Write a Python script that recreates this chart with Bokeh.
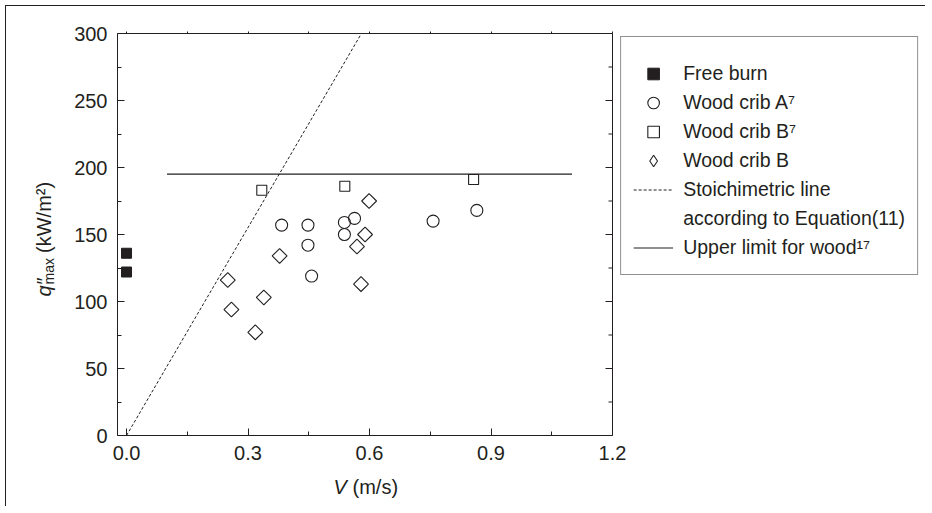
import numpy as np
from bokeh.plotting import figure
from bokeh.models import (Range1d, LinearAxis, FixedTicker, Label, Legend,
                          LegendItem, NumeralTickFormatter, Span)
from bokeh.embed import file_html
from bokeh.resources import INLINE

# ---------------- data ----------------
free_v = [0.0, 0.0]
free_q = [136, 122]

cribA7_v = [0.383, 0.448, 0.448, 0.457, 0.538, 0.538, 0.563, 0.757, 0.865]
cribA7_q = [157, 157, 142, 119, 159, 150, 162, 160, 168]

cribB7_v = [0.334, 0.539, 0.857]
cribB7_q = [183, 186, 191]

cribB_v = [0.250, 0.259, 0.318, 0.339, 0.378, 0.569, 0.579, 0.589, 0.599]
cribB_q = [116, 94, 77, 103, 134, 141, 113, 150, 175]

stoich_v = [0.0, 0.58]
stoich_q = [0, 300]

upper_v = [0.1, 1.1]
upper_q = [195, 195]

x_start, x_end = -0.0223, 1.2
y_start, y_end = 0, 300
x_ticks = [0.0, 0.3, 0.6, 0.9, 1.2]
x_minor = [0.15, 0.45, 0.75, 1.05]
y_ticks = [0, 50, 100, 150, 200, 250, 300]
y_minor = [25, 75, 125, 175, 225, 275]

legend_labels = ["Free burn", "Wood crib A\u2077", "Wood crib B\u2077", "Wood crib B",
                 "Stoichimetric line", "according to Equation(11)",
                 "Upper limit for wood\u00b9\u2077"]

# ---------------- layout / styling ----------------
INK = "#231f20"
FONT = "Liberation Sans"
FS = "20px"

OFF = 6                   # canvas origin on the page (margin 5 + border 1)
FL, FT = 117, 33          # frame left/top on the page
BOX_W, FH = 495, 402      # plot box size (data area)
FR = 921                  # frame extends right to hold the legend
FW = FR - FL
FB = FT + FH
px_per_x = BOX_W / (x_end - x_start)

p = figure(frame_width=FW, frame_height=FH,
           x_range=Range1d(x_start, x_start + FW / px_per_x),
           y_range=Range1d(y_start, y_end),
           output_backend="svg", toolbar_location=None,
           min_border_left=FL - OFF, min_border_top=FT - OFF,
           min_border_bottom=70, min_border_right=4,
           x_axis_label=None, y_axis_label=None)
p.background_fill_color = "white"
p.border_fill_color = "white"
p.grid.visible = False
p.outline_line_color = None

def style_axis(ax, ticks, minor, fmt, tick_in, standoff=10):
    ax.ticker = FixedTicker(ticks=ticks, minor_ticks=minor)
    ax.axis_line_color = INK
    ax.major_tick_line_color = INK
    ax.minor_tick_line_color = INK
    ax.major_tick_out = 0
    ax.minor_tick_out = 0
    ax.major_tick_in = tick_in
    ax.minor_tick_in = max(tick_in - 3, 0)
    ax.major_label_text_font = FONT
    ax.major_label_text_color = INK
    ax.major_label_text_font_size = FS
    ax.formatter = NumeralTickFormatter(format=fmt)
    ax.major_label_standoff = standoff

style_axis(p.xaxis[0], x_ticks, x_minor, "0.0", 7, standoff=10)
p.xaxis[0].bounds = (x_start, x_end)
style_axis(p.yaxis[0], y_ticks, y_minor, "0", 7, standoff=10)

# top edge of the box: ticks only, no labels
top = LinearAxis(bounds=(x_start, x_end), ticker=FixedTicker(ticks=x_ticks, minor_ticks=x_minor),
                 axis_line_color=INK, major_tick_line_color=INK, minor_tick_line_color=INK,
                 major_tick_in=0, minor_tick_in=0, major_tick_out=2, minor_tick_out=2,
                 major_label_text_font_size="0px", major_label_standoff=0)
top.major_label_text_alpha = 0
p.add_layout(top, "above")

# right edge of the box with inward ticks
p.add_layout(Span(location=x_end, dimension="height", line_color=INK, line_width=1))
maj_len, min_len = 7 / px_per_x, 4 / px_per_x
p.segment(x0=[x_end] * len(y_ticks), y0=y_ticks, x1=[x_end - maj_len] * len(y_ticks), y1=y_ticks,
          line_color=INK, line_width=1)
p.segment(x0=[x_end] * len(y_minor), y0=y_minor, x1=[x_end - min_len] * len(y_minor), y1=y_minor,
          line_color=INK, line_width=1)

# ---------------- glyphs ----------------
# legend key for the diamonds: same data, tiny, hidden under the white-filled markers
r_b_key = p.scatter(cribB_v, cribB_q, marker="diamond", size=5,
                    fill_color=None, line_color=INK, line_width=1.1)
r_b = p.scatter(cribB_v, cribB_q, marker="square", size=10.5, angle=np.pi / 4,
                fill_color="white", line_color=INK, line_width=1.1)
r_free = p.scatter(free_v, free_q, marker="square", size=10,
                   fill_color=INK, line_color=INK)
r_a7 = p.scatter(cribA7_v, cribA7_q, marker="circle", size=12,
                 fill_color=None, line_color=INK, line_width=1.1)
r_b7 = p.scatter(cribB7_v, cribB7_q, marker="square", size=10,
                 fill_color=None, line_color=INK, line_width=1.1)
r_st = p.line(stoich_v, stoich_q, line_color=INK, line_width=1, line_dash="3 2")
r_st_blank = p.line(stoich_v, stoich_q, line_alpha=0)
r_up = p.line(upper_v, upper_q, line_color=INK, line_width=1.2)

renderers = [r_free, r_a7, r_b7, r_b_key, r_st, r_st_blank, r_up]
items = [LegendItem(label=lab, renderers=[r]) for lab, r in zip(legend_labels, renderers)]
legend = Legend(items=items, location="top_right",
                title=" ", title_text_font_size="7px", title_standoff=3,
                padding=12, margin=3, spacing=0,
                glyph_width=40, glyph_height=29, label_height=29,
                label_standoff=10,
                label_text_font=FONT, label_text_font_size="19.5px",
                label_text_color=INK,
                border_line_color=INK, border_line_width=1,
                background_fill_color="white", background_fill_alpha=1)
p.add_layout(legend, "center")

# ---------------- axis titles: labels in the side panels ----------------
W = {"q": 556, "m": 833, "a": 556, "x": 500, " ": 278, "(": 333, ")": 333,
     "k": 500, "W": 944, "/": 278, "2": 556, "\u00b2": 333, "V": 667, "s": 500,
     "\u2033": 350}

def tw(s, px):
    return sum(W.get(c, 556) for c in s) / 1000.0 * px

def add_left(text, panel_left, bx, py, size, style="normal"):
    p.add_layout(Label(x=bx - panel_left, y=FB - py, x_units="screen", y_units="screen",
                       text=text, angle=np.pi / 2, text_align="left",
                       text_baseline="alphabetic", text_font=FONT,
                       text_font_size=f"{size}px", text_font_style=style,
                       text_color=INK), "left")

def add_below(text, panel_bottom, px, by, size, style="normal"):
    p.add_layout(Label(x=px - FL, y=panel_bottom - by, x_units="screen", y_units="screen",
                       text=text, angle=0, text_align="left",
                       text_baseline="alphabetic", text_font=FONT,
                       text_font_size=f"{size}px", text_font_style=style,
                       text_color=INK), "below")

# y title: q''_max (kW/m^2), reading bottom to top
y0 = 296
y_sub = y0 - tw("q", 20) - 1
y_main = y_sub - tw("max", 14) - 5
add_left("(kW/m\u00b2)", 52, 46, y_main, 20)
add_left("q\u2033", 30, 46, y0, 20, "italic")
add_left("max", 14, 51, y_sub, 14)

# x title: V (m/s)
add_below("V", 490, 333, 492, 20, "italic")
add_below("(m/s)", 512, 352, 492, 20)

p.styles = {"margin": "5px 0 0 5px",
            "border-top": "1px solid #231f20", "border-left": "1px solid #231f20"}

open("out.html", "w").write(file_html(p, INLINE))
